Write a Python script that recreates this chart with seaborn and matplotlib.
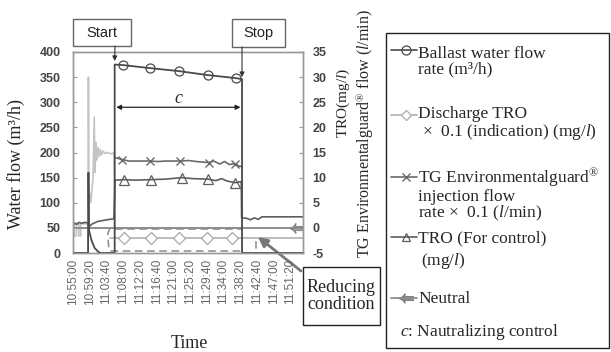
import numpy as np
import pandas as pd
import matplotlib
matplotlib.use('Agg')
import matplotlib.pyplot as plt
import seaborn as sns
from matplotlib.patches import Rectangle

# time is in minutes after 10:55:00, tick every 4 min 20 s
tick_labels = ['10:55:00', '10:59:20', '11:03:40', '11:08:00', '11:12:20', '11:16:40', '11:21:00',
               '11:25:20', '11:29:40', '11:34:00', '11:38:20', '11:42:40', '11:47:00', '11:51:20']
t_start = 10.8
t_stop = 43.8
t_end = 59.6

# ballast water flow (m3/h, left axis)
ballast_t = [0, 3.9, 4.0, 4.15, 4.8, 5.6, 6.6, 7.2, 10.8, 10.8, 12.9, 19.9, 27.4, 35.0, 42.2, 43.8, 43.8, 59.6]
ballast_v = [0, 0, 160, 45, 25, 10, 2, 0, 0, 375, 374, 368, 362, 354, 348, 346, 0, 0]
ballast_mk = [12.9, 19.9, 27.4, 35.0, 42.2]

# TG injection x0.1 (l/min, right axis), light trace before start
tg_pre_t = [0, 0.35, 0.35, 0.9, 0.9, 1.5, 1.5, 2.0, 2.0, 3.8, 3.9, 4.0, 4.1, 4.6, 5.2, 5.5, 5.7,
            5.95, 6.2, 6.5, 6.8, 7.1, 7.4, 7.8, 8.3, 9.0, 10.0, 10.7, 10.8]
tg_pre_v = [1.0, 1.0, -1.6, -1.6, 1.0, 1.0, -1.6, -1.6, 0.8, 0.8, -3.0, 30.0, 8.0, 5.0, 10.0, 22.0, 11.0,
            17.0, 13.5, 16.0, 14.2, 15.6, 14.5, 15.3, 14.8, 15.0, 14.7, 15.0, 0.0]
tg_t = [10.9, 12.7, 14.5, 17.0, 19.9, 22.0, 24.0, 27.7, 30.0, 32.0, 35.2, 36.5, 38.0, 39.3, 40.5,
        42.0, 43.0, 43.7]
tg_v = [14.0, 13.6, 13.3, 13.3, 13.3, 13.2, 13.3, 13.3, 13.4, 13.2, 13.0, 13.3, 12.7, 13.2, 12.6,
        12.8, 12.3, 12.2]
tg_mk = [12.7, 19.9, 27.7, 35.2, 42.0]

# TRO for control (mg/l, right axis)
tro_t = [0, 0.5, 1.0, 1.6, 2.2, 3.0, 3.9, 4.1, 5.0, 6.5, 8.0, 9.5, 10.6, 10.9, 11.2, 13.15, 16.0,
         20.2, 24.0, 28.2, 31.0, 35.0, 37.0, 38.5, 40.0, 42.0, 43.6, 43.7, 45.0, 46.0, 47.0, 48.0,
         49.0, 59.6]
tro_v = [0.6, 0.9, 0.7, 1.1, 0.9, 1.1, 1.0, 0.2, 0.8, 1.3, 1.5, 1.7, 1.8, 9.5, 9.5, 9.6, 9.5,
         9.6, 9.7, 10.0, 9.8, 9.7, 9.4, 9.8, 9.3, 9.0, 9.2, 2.0, 1.9, 1.6, 2.0, 1.7, 2.2, 2.2]
tro_mk = [13.15, 20.2, 28.2, 35.0, 42.0]

# discharge TRO x0.1 (indication, right axis)
dis_t = [9.5, 13.15, 20.2, 27.4, 34.7, 41.2, 59.6]
dis_v = [-2.0, -2.0, -2.0, -2.0, -2.0, -2.0, -2.0]
dis_mk = [13.15, 20.2, 27.4, 34.7, 41.2]

# neutral
neu_t = [0, 58.1, 59.6]
neu_v = [0, 0, 0]
neu_mk = [58.1]

# reducing condition signal (dashed)
red_seg = [0, 0, 1, 1, 1, 1, 1, 2, 2]
red_t = [10.8, 43.8, 9.6, 9.0, 9.3, 9.6, 44.3, 47.5, 47.5]
red_v = [-0.25, -0.25, 0.0, -1.2, -4.4, -4.6, -4.6, -2.6, -4.4]

c_ball = '#4a4a4a'
c_tg = '#6a6a6a'
c_tgpre = '#c4c4c4'
c_tro = '#5e5e5e'
c_dis = '#b0b0b0'
c_neu = '#858585'
c_red = '#8a8a8a'

sns.set_style('white')
plt.rcParams['font.family'] = ['Liberation Serif', 'DejaVu Serif']
plt.rcParams['mathtext.fontset'] = 'custom'
plt.rcParams['mathtext.rm'] = 'Liberation Serif'
plt.rcParams['mathtext.it'] = 'Liberation Serif:italic'
sans = 'Liberation Sans'

fig = plt.figure(figsize=(6.11, 3.52), dpi=100)
ax = fig.add_axes([73 / 611, 1 - 253 / 352, 230 / 611, 201 / 352])
ax2 = ax.twinx()


def idx(ts, marks):
    return [list(ts).index(m) for m in marks]


sns.lineplot(x=tg_pre_t, y=tg_pre_v, sort=False, estimator=None, color=c_tgpre, lw=1.2, ax=ax2)
sns.lineplot(x=neu_t, y=neu_v, sort=False, estimator=None, color=c_neu, lw=1.3, ax=ax2,
             marker=r'$\Leftarrow$', markevery=idx(neu_t, neu_mk), ms=11, mec=c_neu)
sns.lineplot(x=dis_t, y=dis_v, sort=False, estimator=None, color=c_dis, lw=1.2, ax=ax2,
             marker='D', markevery=idx(dis_t, dis_mk), ms=6.5, mfc='white', mec=c_dis, mew=1)
red = pd.DataFrame({'t': red_t, 'v': red_v, 'seg': red_seg})
sns.lineplot(data=red, x='t', y='v', units='seg', sort=False, estimator=None, color=c_red,
             lw=1.1, ls=(0, (5, 3)), ax=ax2)
sns.lineplot(x=tro_t, y=tro_v, sort=False, estimator=None, color=c_tro, lw=1.2, ax=ax2,
             marker='^', markevery=idx(tro_t, tro_mk), ms=7, mfc='none', mec=c_tro, mew=0.9)
sns.lineplot(x=tg_t, y=tg_v, sort=False, estimator=None, color=c_tg, lw=1.2, ax=ax2,
             marker='x', markevery=idx(tg_t, tg_mk), ms=6, mec=c_tg, mew=1)
sns.lineplot(x=ballast_t, y=ballast_v, sort=False, estimator=None, color=c_ball, lw=1.3, ax=ax,
             marker='o', markevery=idx(ballast_t, ballast_mk), ms=6.5, mfc='none', mec=c_ball, mew=0.9)
ax.set_zorder(ax2.get_zorder() + 1)
ax.patch.set_visible(False)

ax.set_xlim(0, t_end)
ax.set_ylim(0, 400)
ax2.set_ylim(-5, 35)
ax.set_xticks(np.arange(len(tick_labels)) * 260 / 60)
ax.set_xticklabels(tick_labels, rotation=90, fontsize=8.5, color='#666', family=sans)
ax.set_yticks(np.arange(0, 401, 50))
ax.set_yticklabels([str(v) for v in range(0, 401, 50)], fontsize=9, color='#444',
                   family=sans, weight='bold')
ax2.set_yticks(np.arange(-5, 36, 5))
ax2.set_yticklabels([str(v) for v in range(-5, 36, 5)], fontsize=9, color='#444',
                    family=sans, weight='bold')
ax.tick_params(axis='x', length=0, pad=4)
ax.tick_params(axis='y', direction='in', length=3, color='#999', pad=9)
ax2.tick_params(axis='y', direction='in', length=3, color='#999', pad=7)
ax.set_xlabel('')
ax.set_ylabel('')
ax2.set_ylabel('')
for a in (ax, ax2):
    for s in a.spines.values():
        s.set_color('#999')
        s.set_linewidth(1)

# start / stop / c arrows tied to the data axis
arr = dict(arrowstyle='-|>', color='#333', lw=0.8, mutation_scale=7, shrinkA=0, shrinkB=0)
ax.annotate('', xy=(t_start, 382), xytext=(115, 352 - 46), textcoords='figure pixels', arrowprops=arr)
ax.annotate('', xy=(t_stop, 350), xytext=(242, 352 - 47), textcoords='figure pixels', arrowprops=arr)
ax.annotate('', xy=(t_start + 0.4, 290), xytext=(t_stop - 0.4, 290),
            arrowprops=dict(arrowstyle='<|-|>', color='#222', lw=0.9, mutation_scale=7, shrinkA=0, shrinkB=0))
ax.text((t_start + t_stop) / 2, 307, 'c', style='italic', fontsize=13, ha='center', va='center')

# overlay in pixel coordinates for labels, boxes and the key
ov = fig.add_axes([0, 0, 1, 1])
ov.set_xlim(0, 611)
ov.set_ylim(352, 0)
ov.axis('off')

ov.add_patch(Rectangle((73, 19), 58, 27, fill=False, ec='#666', lw=1))
ov.text(102, 33, 'Start', ha='center', va='center', fontsize=10.5, family=sans, color='#222')
ov.add_patch(Rectangle((232, 19), 53, 28, fill=False, ec='#666', lw=1))
ov.text(258.5, 33, 'Stop', ha='center', va='center', fontsize=10.5, family=sans, color='#222')

ov.text(16, 164, 'Water flow (m³/h)', rotation=90, ha='center', va='center', fontsize=13)
ov.text(189, 343, 'Time', ha='center', va='center', fontsize=13)
ov.text(343, 103, 'TRO(mg/$\\mathit{l}$)', rotation=90, ha='center', va='center', fontsize=11)
ov.text(365, 134, 'TG Environmentalguard$^{®}$ flow ($\\mathit{l}$/min)', rotation=90,
        ha='center', va='center', fontsize=11.5)

ov.add_patch(Rectangle((303, 267), 77, 58, fill=False, ec='#222', lw=1))
ov.text(341, 296, 'Reducing\ncondition', ha='center', va='center', fontsize=13, linespacing=1.0)
ov.annotate('', xy=(258, 237), xytext=(301, 271),
            arrowprops=dict(arrowstyle='-|>', color='#777', lw=2, mutation_scale=14, shrinkA=0, shrinkB=0))

# key
ov.add_patch(Rectangle((386, 33), 223, 315, fill=False, ec='#222', lw=1))
keys = [
    (50, c_ball, dict(marker='o', ms=6.5, mfc='none', mec=c_ball, mew=0.9),
     62, 'Ballast water flow\nrate (m³/h)'),
    (115, c_dis, dict(marker='D', ms=5.5, mfc='white', mec=c_dis, mew=1),
     124, 'Discharge TRO\n ×  0.1 (indication) (mg/$\\mathit{l}$)'),
    (177, c_tg, dict(marker='x', ms=5.5, mec=c_tg, mew=1),
     195, 'TG Environmentalguard$^{®}$\ninjection flow\nrate ×  0.1 ($\\mathit{l}$/min)'),
    (237, c_tro, dict(marker='^', ms=6, mfc='none', mec=c_tro, mew=0.9),
     238, 'TRO (For control)'),
    (298, c_neu, dict(marker=r'$\Leftarrow$', ms=10, mec=c_neu),
     299, 'Neutral'),
]
for y, col, mk, ty, s in keys:
    ov.plot([391, 406, 417], [y, y, y], color=col, lw=1.2, markevery=[1], **mk)
    ov.text(418, ty, s, ha='left', va='center', fontsize=12.5, linespacing=0.95)
ov.text(421, 261, '(mg/$\\mathit{l}$)', ha='left', va='center', fontsize=12.5)
ov.text(400, 332, '$\\mathit{c}$: Nautralizing control', ha='left', va='center', fontsize=12.5)

fig.savefig('out.png', dpi=100)
